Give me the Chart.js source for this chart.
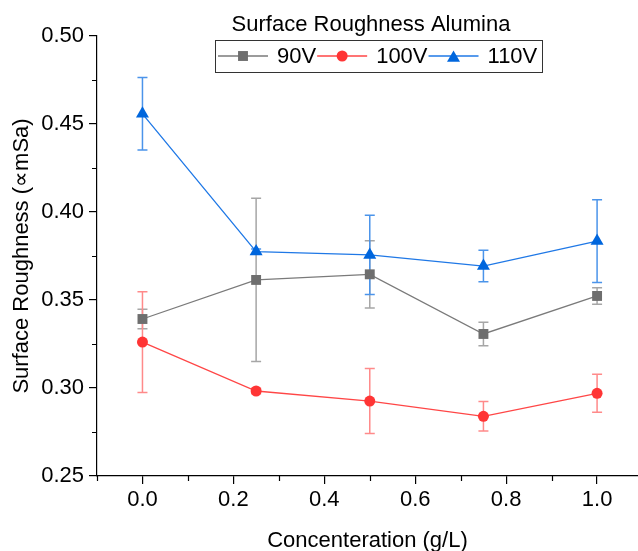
<!DOCTYPE html>
<html>
<head>
<meta charset="utf-8">
<script src="https://cdn.jsdelivr.net/npm/chart.js@4.4.1/dist/chart.umd.min.js"></script>
<style>
  html, body { margin: 0; padding: 0; background: #fff; }
  #wrap { width: 638px; height: 551px; }
</style>
</head>
<body>
<div id="wrap"><canvas id="chart" width="638" height="551"></canvas></div>
<script>
// Surface roughness vs concentration, three voltages
const CONC = [0, 0.25, 0.5, 0.75, 1.0];
const LABELS = ['90V', '100V', '110V'];
const V90 = [0.3392, 0.3614, 0.3646, 0.3307, 0.3523];
const V90_ERR = [0.0056, 0.0464, 0.0191, 0.0067, 0.0047];
const V100 = [0.3261, 0.2983, 0.2926, 0.2839, 0.2970];
const V100_ERR = [0.0286, 0.0015, 0.0185, 0.0084, 0.0108];
const V110 = [0.4558, 0.3775, 0.3756, 0.3693, 0.3835];
const V110_ERR = [0.0206, 0.0015, 0.0225, 0.0089, 0.0235];

const X_TICKS = [0, 0.2, 0.4, 0.6, 0.8, 1.0];
const X_MINOR = [-0.1, 0.1, 0.3, 0.5, 0.7, 0.9];
const Y_TICKS = [0.25, 0.30, 0.35, 0.40, 0.45, 0.50];
const Y_MINOR = [0.275, 0.325, 0.375, 0.425, 0.475];

const FONT = '"Liberation Sans", Arial, sans-serif';
const FS = 22;

function series(ys, errs) {
  return CONC.map((x, i) => ({ x, y: ys[i], err: errs[i] }));
}

// error bars, drawn under the lines and markers
const errorBars = {
  id: 'errorBars',
  beforeDatasetsDraw(chart) {
    const { ctx, scales: { x, y } } = chart;
    ctx.save();
    chart.data.datasets.forEach((ds) => {
      ctx.strokeStyle = ds.errColor;
      ctx.lineWidth = 1.5;
      ds.data.forEach((p) => {
        const px = x.getPixelForValue(p.x);
        const top = y.getPixelForValue(p.y + p.err);
        const bot = y.getPixelForValue(p.y - p.err);
        ctx.beginPath();
        ctx.moveTo(px, top); ctx.lineTo(px, bot);
        ctx.moveTo(px - 5, top); ctx.lineTo(px + 5, top);
        ctx.moveTo(px - 5, bot); ctx.lineTo(px + 5, bot);
        ctx.stroke();
      });
    });
    ctx.restore();
  },
};

// minor ticks + boxed legend with title
const extras = {
  id: 'extras',
  afterDraw(chart) {
    const { ctx, scales: { x, y }, chartArea } = chart;
    ctx.save();
    ctx.strokeStyle = '#000';
    ctx.lineWidth = 1.2;
    ctx.beginPath();
    X_MINOR.forEach((v) => {
      const px = Math.round(x.getPixelForValue(v)) + 0.5;
      ctx.moveTo(px, chartArea.bottom); ctx.lineTo(px, chartArea.bottom + 5);
    });
    Y_MINOR.forEach((v) => {
      const py = Math.round(y.getPixelForValue(v)) + 0.5;
      ctx.moveTo(chartArea.left, py); ctx.lineTo(chartArea.left - 5, py);
    });
    ctx.stroke();

    // legend
    ctx.fillStyle = '#000';
    ctx.font = `${FS}px ${FONT}`;
    ctx.textAlign = 'center';
    ctx.textBaseline = 'middle';
    ctx.fillText('Surface Roughness Alumina', 371, 25);

    ctx.strokeStyle = '#333';
    ctx.lineWidth = 1;
    ctx.strokeRect(215.5, 40.5, 327, 32);

    let lx = 218;
    const ly = 56;
    ctx.textAlign = 'left';
    chart.data.datasets.forEach((ds) => {
      ctx.strokeStyle = ds.borderColor;
      ctx.lineWidth = 1.3;
      ctx.beginPath();
      ctx.moveTo(lx, ly); ctx.lineTo(lx + 50, ly);
      ctx.stroke();
      ctx.fillStyle = ds.pointBackgroundColor;
      Chart.helpers.drawPoint(ctx, {
        pointStyle: ds.pointStyle, radius: ds.pointRadius, borderWidth: 0, rotation: 0,
      }, lx + 25, ly + (ds.pointStyle === 'triangle' ? 2 : 0));
      ctx.fillStyle = '#000';
      ctx.fillText(ds.label, lx + 59, ly + 1);
      lx += 59 + ctx.measureText(ds.label).width + 1;
    });
    ctx.restore();
  },
};

new Chart(document.getElementById('chart'), {
  type: 'scatter',
  data: {
    datasets: [
      {
        label: LABELS[0], data: series(V90, V90_ERR), order: 3,
        showLine: true, borderColor: '#7a7a7a', borderWidth: 1.3,
        pointStyle: 'rect', pointRadius: 7, pointBackgroundColor: '#6e6e6e',
        pointBorderWidth: 0, errColor: '#a6a6a6',
      },
      {
        label: LABELS[1], data: series(V100, V100_ERR), order: 2,
        showLine: true, borderColor: '#ff4646', borderWidth: 1.3,
        pointStyle: 'circle', pointRadius: 5.5, pointBackgroundColor: '#ff3535',
        pointBorderWidth: 0, errColor: '#ff8a8a',
      },
      {
        label: LABELS[2], data: series(V110, V110_ERR), order: 1,
        showLine: true, borderColor: '#1f78e6', borderWidth: 1.3,
        pointStyle: 'triangle', pointRadius: 7.5, pointBackgroundColor: '#0066dd',
        pointBorderWidth: 0, errColor: '#4b94ea',
      },
    ],
  },
  options: {
    responsive: false,
    animation: false,
    layout: { autoPadding: false, padding: { top: 36, right: 0, left: 0, bottom: 0 } },
    plugins: { legend: { display: false }, tooltip: { enabled: false } },
    scales: {
      x: {
        type: 'linear', min: -0.1, max: 1.09,
        afterBuildTicks: (s) => { s.ticks = X_TICKS.map((v) => ({ value: v })); },
        afterFit: (s) => { s.height = 75; },
        grid: { drawOnChartArea: false, color: '#000', tickLength: 8, lineWidth: 1.2 },
        border: { color: '#000', width: 1.2 },
        ticks: { color: '#000', padding: 3, font: { family: FONT, size: FS }, callback: (v) => v.toFixed(1) },
        title: { display: true, text: 'Concenteration (g/L)', color: '#000', padding: { top: 0, bottom: -3 }, font: { family: FONT, size: FS } },
      },
      y: {
        type: 'linear', min: 0.25, max: 0.50,
        afterBuildTicks: (s) => { s.ticks = Y_TICKS.map((v) => ({ value: v })); },
        afterFit: (s) => { s.width = 97; },
        grid: { drawOnChartArea: false, color: '#000', tickLength: 8, lineWidth: 1.2 },
        border: { color: '#000', width: 1.2 },
        ticks: { color: '#000', padding: 5, font: { family: FONT, size: FS }, callback: (v) => v.toFixed(2) },
        title: { display: true, text: 'Surface Roughness (∝mSa)', color: '#000', padding: { top: 9, bottom: 0 }, font: { family: FONT, size: FS } },
      },
    },
  },
  plugins: [errorBars, extras],
});
</script>
</body>
</html>
